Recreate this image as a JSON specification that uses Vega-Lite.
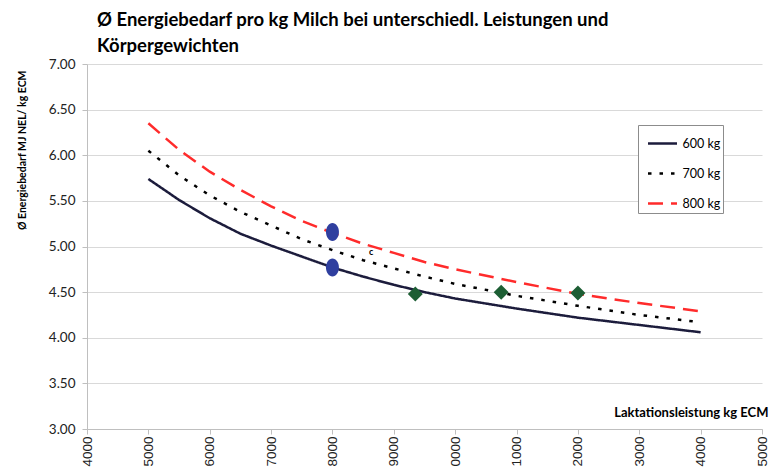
{
  "$schema": "https://vega.github.io/schema/vega-lite/v6.json",
  "width": 675,
  "height": 365,
  "autosize": {"type": "none"},
  "padding": {"left": 87, "top": 64, "right": 11, "bottom": 41},
  "background": "white",
  "title": {
    "text": ["Ø Energiebedarf pro kg Milch bei unterschiedl. Leistungen und", "Körpergewichten"],
    "anchor": "start",
    "frame": "group",
    "dx": 10,
    "font": "Lato",
    "fontSize": 18.5,
    "fontWeight": "bold",
    "color": "#000000",
    "lineHeight": 26,
    "offset": 2
  },
  "datasets": {
    "lines": [
      {"series": "600 kg", "x": 5000, "y": 5.74},
      {"series": "600 kg", "x": 5500, "y": 5.51},
      {"series": "600 kg", "x": 6000, "y": 5.31},
      {"series": "600 kg", "x": 6500, "y": 5.14},
      {"series": "600 kg", "x": 7000, "y": 5.01},
      {"series": "600 kg", "x": 7500, "y": 4.89},
      {"series": "600 kg", "x": 8000, "y": 4.77},
      {"series": "600 kg", "x": 8500, "y": 4.67},
      {"series": "600 kg", "x": 9000, "y": 4.58},
      {"series": "600 kg", "x": 9500, "y": 4.50},
      {"series": "600 kg", "x": 10000, "y": 4.43},
      {"series": "600 kg", "x": 11000, "y": 4.32},
      {"series": "600 kg", "x": 12000, "y": 4.22},
      {"series": "600 kg", "x": 13000, "y": 4.14},
      {"series": "600 kg", "x": 14000, "y": 4.06},
      {"series": "700 kg", "x": 5000, "y": 6.05},
      {"series": "700 kg", "x": 5500, "y": 5.78},
      {"series": "700 kg", "x": 6000, "y": 5.56},
      {"series": "700 kg", "x": 6500, "y": 5.38},
      {"series": "700 kg", "x": 7000, "y": 5.23},
      {"series": "700 kg", "x": 7500, "y": 5.08},
      {"series": "700 kg", "x": 8000, "y": 4.96},
      {"series": "700 kg", "x": 8500, "y": 4.85},
      {"series": "700 kg", "x": 9000, "y": 4.76},
      {"series": "700 kg", "x": 9500, "y": 4.67},
      {"series": "700 kg", "x": 10000, "y": 4.59},
      {"series": "700 kg", "x": 11000, "y": 4.46},
      {"series": "700 kg", "x": 12000, "y": 4.35},
      {"series": "700 kg", "x": 13000, "y": 4.25},
      {"series": "700 kg", "x": 14000, "y": 4.17},
      {"series": "800 kg", "x": 5000, "y": 6.35},
      {"series": "800 kg", "x": 5500, "y": 6.06},
      {"series": "800 kg", "x": 6000, "y": 5.82},
      {"series": "800 kg", "x": 6500, "y": 5.62},
      {"series": "800 kg", "x": 7000, "y": 5.44},
      {"series": "800 kg", "x": 7500, "y": 5.28},
      {"series": "800 kg", "x": 8000, "y": 5.15},
      {"series": "800 kg", "x": 8500, "y": 5.03},
      {"series": "800 kg", "x": 9000, "y": 4.93},
      {"series": "800 kg", "x": 9500, "y": 4.83},
      {"series": "800 kg", "x": 10000, "y": 4.75},
      {"series": "800 kg", "x": 11000, "y": 4.61},
      {"series": "800 kg", "x": 12000, "y": 4.48},
      {"series": "800 kg", "x": 13000, "y": 4.38},
      {"series": "800 kg", "x": 14000, "y": 4.29}
    ],
    "ellipses": [
      {"x": 8000, "y": 5.16},
      {"x": 8000, "y": 4.77}
    ],
    "diamonds": [
      {"x": 9350, "y": 4.48},
      {"x": 10750, "y": 4.50},
      {"x": 12000, "y": 4.49}
    ],
    "notes": [
      {"x": 8630, "y": 4.94, "label": "c"}
    ]
  },
  "encoding": {
    "x": {
      "field": "x",
      "type": "quantitative",
      "scale": {"domain": [4000, 15000], "nice": false, "zero": false},
      "axis": {
        "values": [4000, 5000, 6000, 7000, 8000, 9000, 10000, 11000, 12000, 13000, 14000, 15000],
        "format": "d",
        "labelExpr": "substring(datum.label, length(datum.label) - 4)",
        "labelAngle": -90,
        "labelFont": "Liberation Sans",
        "labelFontSize": 13.5,
        "labelColor": "#222222",
        "labelPadding": 2,
        "labelOverlap": false,
        "labelFlush": false,
        "grid": false,
        "domainColor": "#bfbfbf",
        "tickColor": "#bfbfbf",
        "tickSize": 5,
        "title": "Laktationsleistung kg ECM",
        "titleFont": "Lato",
        "titleFontSize": 13,
        "titleFontWeight": "bold",
        "titleColor": "#000000",
        "titleAnchor": "end",
        "titleAlign": "right",
        "titleBaseline": "middle",
        "titleX": 681,
        "titleY": -17
      }
    },
    "y": {
      "field": "y",
      "type": "quantitative",
      "scale": {"domain": [3, 7], "nice": false, "zero": false},
      "axis": {
        "values": [3, 3.5, 4, 4.5, 5, 5.5, 6, 6.5, 7],
        "format": ".2f",
        "labelFont": "Lato",
        "labelFontSize": 13.5,
        "labelColor": "#222222",
        "labelPadding": 7,
        "grid": true,
        "gridColor": "#d9d9d9",
        "gridWidth": 1.2,
        "domainColor": "#bfbfbf",
        "tickColor": "#bfbfbf",
        "tickSize": 5,
        "title": "Ø Energiebedarf MJ NEL/ kg ECM",
        "titleFont": "Lato",
        "titleFontSize": 10.5,
        "titleFontWeight": "bold",
        "titleColor": "#000000",
        "titleAngle": -90,
        "titleAnchor": "end",
        "titleAlign": "right",
        "titleBaseline": "middle",
        "titleX": -65,
        "titleY": 6
      }
    }
  },
  "layer": [
    {
      "data": {"name": "lines"},
      "mark": {"type": "line", "strokeWidth": 2.5, "strokeCap": "butt"},
      "encoding": {
        "color": {
          "field": "series",
          "type": "nominal",
          "scale": {"domain": ["600 kg", "700 kg", "800 kg"], "range": ["#1c1c3c", "#000000", "#ff2b2b"]},
          "legend": {"title": null}
        },
        "strokeDash": {
          "field": "series",
          "type": "nominal",
          "scale": {"domain": ["600 kg", "700 kg", "800 kg"], "range": [[1, 0], [3.5, 8], [15, 8]]},
          "legend": {"title": null}
        }
      }
    },
    {
      "data": {"name": "ellipses"},
      "mark": {
        "type": "point",
        "shape": "M-0.72,0A0.72,1,0,1,0,0.72,0A0.72,1,0,1,0,-0.72,0Z",
        "size": 324,
        "filled": true,
        "color": "#2f3f9f",
        "opacity": 1
      }
    },
    {
      "data": {"name": "diamonds"},
      "mark": {
        "type": "point",
        "shape": "diamond",
        "size": 225,
        "filled": true,
        "color": "#1d5e34",
        "opacity": 1
      }
    },
    {
      "data": {"name": "notes"},
      "mark": {"type": "text", "font": "Lato", "fontSize": 9, "fontWeight": "bold", "color": "#000000"},
      "encoding": {"text": {"field": "label"}}
    }
  ],
  "config": {
    "view": {"stroke": null},
    "legend": {
      "orient": "none",
      "legendX": 551,
      "legendY": 61,
      "fillColor": "white",
      "strokeColor": "#8c8c8c",
      "padding": 2.5,
      "symbolType": "stroke",
      "symbolSize": 841,
      "symbolStrokeWidth": 2.5,
      "symbolOffset": 6,
      "rowPadding": 7,
      "labelFont": "Lato",
      "labelFontSize": 12.5,
      "labelColor": "#000000",
      "labelOffset": 4
    }
  }
}
